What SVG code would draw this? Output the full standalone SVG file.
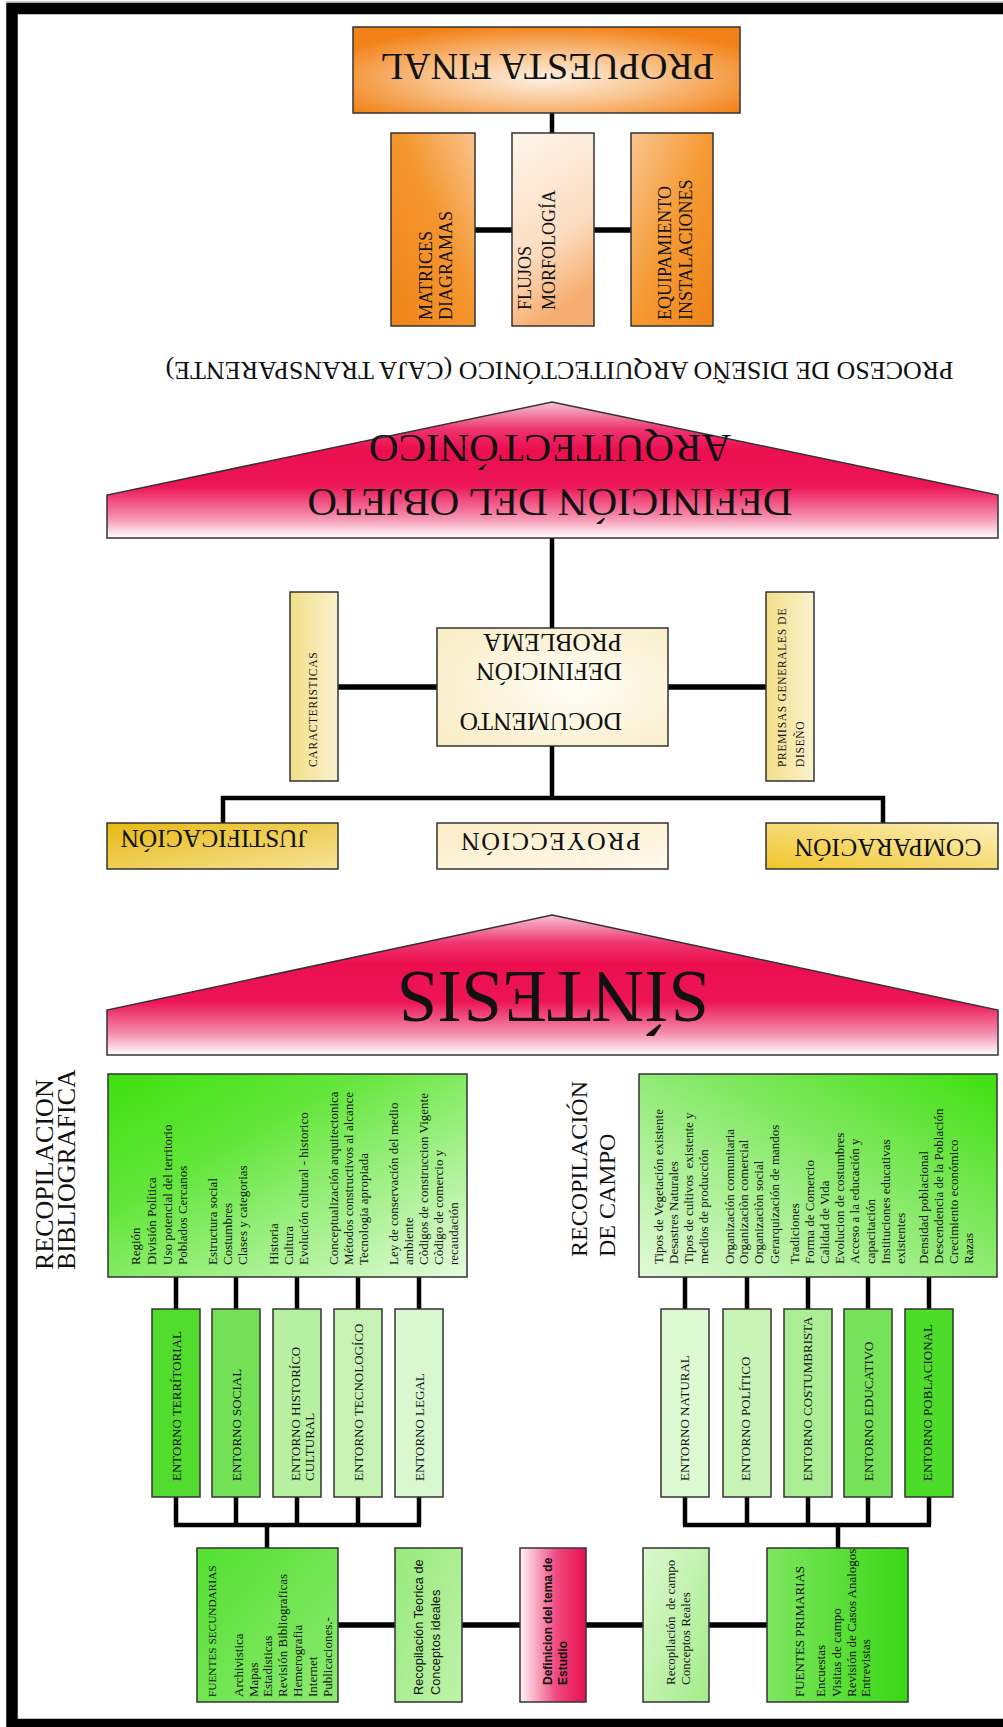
<svg xmlns="http://www.w3.org/2000/svg" width="1003" height="1727" viewBox="0 0 1003 1727">
<style>
.bx{stroke:#333;stroke-width:1.5}
.t{font-family:"Liberation Serif","Times New Roman",serif;fill:#111}
.s{font-family:"Liberation Sans",Arial,sans-serif;fill:#111}
.c{stroke:#000;fill:none;stroke-width:4.5}
.ct{stroke:#000;fill:none;stroke-width:5.5}
.l13{font-size:13px}
.e{font-size:13px}
</style>
<defs>
<radialGradient id="gProp" cx="0.5" cy="0.6" r="0.62"><stop offset="0" stop-color="#fdf0e2"/><stop offset="0.45" stop-color="#f9c590"/><stop offset="1" stop-color="#f28217"/></radialGradient>
<linearGradient id="gMat" x1="0" y1="1" x2="1" y2="0"><stop offset="0" stop-color="#f08418"/><stop offset="0.55" stop-color="#f4962e"/><stop offset="1" stop-color="#f9c48e"/></linearGradient>
<linearGradient id="gFlu" x1="0" y1="0" x2="0.3" y2="1"><stop offset="0" stop-color="#fef6ee"/><stop offset="0.65" stop-color="#fcdcc0"/><stop offset="1" stop-color="#f6ae70"/></linearGradient>
<linearGradient id="gEqu" x1="0" y1="0" x2="1" y2="1"><stop offset="0" stop-color="#f9c690"/><stop offset="0.5" stop-color="#f59a34"/><stop offset="1" stop-color="#f08418"/></linearGradient>
<linearGradient id="gRed" x1="0" y1="0" x2="0" y2="1"><stop offset="0" stop-color="#f6c4d4"/><stop offset="0.2" stop-color="#ee3470"/><stop offset="0.35" stop-color="#ec0f50"/><stop offset="0.62" stop-color="#ec1556"/><stop offset="0.85" stop-color="#f590b0"/><stop offset="1" stop-color="#ffffff"/></linearGradient>
<radialGradient id="gDoc" cx="0.6" cy="0.5" r="0.7"><stop offset="0" stop-color="#fffdf6"/><stop offset="1" stop-color="#f9edc6"/></radialGradient>
<linearGradient id="gCar" x1="0" y1="0" x2="1" y2="0"><stop offset="0" stop-color="#f2de88"/><stop offset="1" stop-color="#fbf2ce"/></linearGradient>
<linearGradient id="gJus" x1="0" y1="0" x2="1" y2="1"><stop offset="0" stop-color="#e7b912"/><stop offset="1" stop-color="#f7e39a"/></linearGradient>
<linearGradient id="gPro" x1="0" y1="0" x2="1" y2="1"><stop offset="0" stop-color="#fbecc4"/><stop offset="1" stop-color="#fffaee"/></linearGradient>
<linearGradient id="gCom" x1="0" y1="1" x2="1" y2="0"><stop offset="0" stop-color="#f0c52a"/><stop offset="1" stop-color="#fcf0bc"/></linearGradient>
<linearGradient id="gBib" x1="0" y1="0" x2="1" y2="1"><stop offset="0" stop-color="#3ee00e"/><stop offset="0.35" stop-color="#64e63c"/><stop offset="1" stop-color="#e6fbde"/></linearGradient>
<linearGradient id="gCam" x1="0" y1="1" x2="1" y2="0"><stop offset="0" stop-color="#e2fad9"/><stop offset="0.6" stop-color="#80e860"/><stop offset="1" stop-color="#3ee00e"/></linearGradient>
<linearGradient id="gDef" x1="0" y1="0" x2="1" y2="0"><stop offset="0" stop-color="#fff4f7"/><stop offset="0.55" stop-color="#ef4a80"/><stop offset="1" stop-color="#e8104f"/></linearGradient>
<linearGradient id="gFS" x1="0" y1="0" x2="1" y2="1"><stop offset="0" stop-color="#52e030"/><stop offset="1" stop-color="#8eea72"/></linearGradient>
<linearGradient id="gFP" x1="0" y1="0" x2="1" y2="0"><stop offset="0" stop-color="#7ee660"/><stop offset="1" stop-color="#3ad814"/></linearGradient>
<linearGradient id="gRT" x1="0" y1="0" x2="1" y2="1"><stop offset="0" stop-color="#98ea7c"/><stop offset="1" stop-color="#bff2aa"/></linearGradient>
<linearGradient id="gRC" x1="0" y1="0" x2="1" y2="1"><stop offset="0" stop-color="#dcf8d0"/><stop offset="1" stop-color="#a4ec8a"/></linearGradient>
</defs>

<g id="frame">
<rect x="12" y="8.5" width="1100" height="1716" fill="none" stroke="#000" stroke-width="11.5"/>
<line x1="6" y1="2" x2="1003" y2="2" stroke="#999" stroke-width="1"/>
</g>

<g id="connectors">
<line class="c" x1="552" y1="113" x2="552" y2="134"/>
<line class="ct" x1="475" y1="230" x2="512" y2="230"/>
<line class="ct" x1="594" y1="230" x2="631" y2="230"/>
<line class="c" x1="552" y1="538" x2="552" y2="628"/>
<line class="ct" x1="338" y1="687" x2="437" y2="687"/>
<line class="ct" x1="668" y1="687" x2="766" y2="687"/>
<line class="c" x1="552" y1="746" x2="552" y2="798"/>
<polyline class="c" points="223,823 223,798 883,798 883,823"/>
<path class="c" d="M176,1277V1309M236,1277V1309M297,1277V1309M358,1277V1309M419,1277V1309"/>
<path class="c" d="M176,1497V1525M236,1497V1525M297,1497V1525M358,1497V1525M419,1497V1525M174,1525H421M267,1525V1548"/>
<path class="c" d="M685,1277V1309M747,1277V1309M808,1277V1309M868,1277V1309M929,1277V1309"/>
<path class="c" d="M685,1497V1525M747,1497V1525M808,1497V1525M868,1497V1525M929,1497V1525M683,1525H931M838,1525V1548"/>
<path class="ct" d="M338,1625H395M462,1625H520M586,1625H643M709,1625H767"/>
</g>

<g id="n-propuesta">
<rect class="bx" x="353" y="27" width="387" height="86" fill="url(#gProp)"/>
<text class="t" font-size="38" text-anchor="middle" transform="rotate(180)" x="-547" y="-53.5">PROPUESTA FINAL</text>
</g>
<g id="n-matrices">
<rect class="bx" x="391" y="133" width="84" height="193" fill="url(#gMat)"/>
<text class="t" font-size="18" transform="rotate(-90)"><tspan x="-320" y="431.5">MATRICES</tspan><tspan x="-320" y="452">DIAGRAMAS</tspan></text>
</g>
<g id="n-flujos">
<rect class="bx" x="512" y="133" width="82" height="193" fill="url(#gFlu)"/>
<text class="t" font-size="18" fill="#222" transform="rotate(-90)"><tspan x="-310" y="530.5">FLUJOS</tspan><tspan x="-310" y="555">MORFOLOGÍA</tspan></text>
</g>
<g id="n-equipamiento">
<rect class="bx" x="631" y="133" width="82" height="193" fill="url(#gEqu)"/>
<text class="t" font-size="18" transform="rotate(-90)"><tspan x="-320" y="671">EQUIPAMIENTO</tspan><tspan x="-320" y="692">INSTALACIONES</tspan></text>
</g>

<g id="t-proceso">
<text class="t" font-size="26" text-anchor="middle" transform="rotate(180)" x="-559.5" y="-362">PROCESO DE DISEÑO ARQUITECTÓNICO (CAJA TRANSPARENTE)</text>
</g>

<g id="n-definicion-objeto">
<polygon class="bx" points="552,402 998,495 998,538 107,538 107,495" fill="url(#gRed)" stroke-width="1"/>
<text class="t" font-size="41" text-anchor="middle" transform="rotate(180)"><tspan x="-550" y="-488.5">DEFINICIÓN DEL OBJETO</tspan><tspan x="-550" y="-435">ARQUITECTÓNICO</tspan></text>
</g>

<g id="n-caracteristicas">
<rect class="bx" x="290" y="592" width="48" height="189" fill="url(#gCar)"/>
<text class="t" font-size="11.5" letter-spacing="0.7" transform="rotate(-90)" x="-767" y="317">CARACTERISTICAS</text>
</g>
<g id="n-documento">
<rect class="bx" x="437" y="628" width="231" height="118" fill="url(#gDoc)"/>
<text class="t" font-size="25.5" transform="rotate(180)"><tspan x="-622" y="-713">DOCUMENTO</tspan><tspan x="-622" y="-663">DEFINICIÓN</tspan><tspan x="-622" y="-634">PROBLEMA</tspan></text>
</g>
<g id="n-premisas">
<rect class="bx" x="766" y="592" width="48" height="189" fill="url(#gCar)"/>
<text class="t" font-size="11.5" letter-spacing="0.7" transform="rotate(-90)"><tspan x="-767" y="786">PREMISAS GENERALES DE</tspan><tspan x="-767" y="804">DISEÑO</tspan></text>
</g>

<g id="n-justificacion">
<rect class="bx" x="107" y="823" width="231" height="46" fill="url(#gJus)"/>
<text class="t" font-size="25.5" text-anchor="middle" transform="rotate(180)" x="-214" y="-830">JUSTIFICACIÓN</text>
</g>
<g id="n-proyeccion">
<rect class="bx" x="437" y="823" width="231" height="46" fill="url(#gPro)"/>
<text class="t" font-size="26" letter-spacing="1.5" text-anchor="middle" transform="rotate(180)" x="-550" y="-833">PROYECCIÓN</text>
</g>
<g id="n-comparacion">
<rect class="bx" x="766" y="823" width="232" height="46" fill="url(#gCom)"/>
<text class="t" font-size="25.6" text-anchor="middle" transform="rotate(180)" x="-888" y="-838.5">COMPARACIÓN</text>
</g>

<g id="n-sintesis">
<polygon class="bx" points="552,915 998,1010 998,1055 107,1055 107,1010" fill="url(#gRed)" stroke-width="1"/>
<text class="t" font-size="73" text-anchor="middle" transform="rotate(180)" x="-553" y="-972">SÍNTESIS</text>
</g>

<g id="n-recop-bibliografica">
<text class="t" font-size="26" transform="rotate(-90)"><tspan x="-1270" y="53">RECOPILACION</tspan><tspan x="-1270" y="75">BIBLIOGRAFICA</tspan></text>
<rect class="bx" x="108" y="1074" width="359" height="203" fill="url(#gBib)"/>
<text class="t l13" transform="rotate(-90)">
<tspan x="-1265" y="139.5">Región</tspan>
<tspan x="-1265" y="155.5">División Política</tspan>
<tspan x="-1265" y="171.5">Uso potencial del territorio</tspan>
<tspan x="-1265" y="186.5">Poblados Cercanos</tspan>
<tspan x="-1265" y="216.5">Estructura social</tspan>
<tspan x="-1265" y="231.5">Costumbres</tspan>
<tspan x="-1265" y="246.5">Clases y categorias</tspan>
<tspan x="-1265" y="277.5">Historia</tspan>
<tspan x="-1265" y="292.5">Cultura</tspan>
<tspan x="-1265" y="307.5">Evolución cultural - historico</tspan>
<tspan x="-1265" y="337.5">Conceptualización arquitectonica</tspan>
<tspan x="-1265" y="352.5">Métodos constructivos al alcance</tspan>
<tspan x="-1265" y="367.5">Tecnologia apropiada</tspan>
<tspan x="-1265" y="397.5">Ley de conservación del medio</tspan>
<tspan x="-1265" y="412.5">ambiente</tspan>
<tspan x="-1265" y="427.5">Còdigos de construccion Vigente</tspan>
<tspan x="-1265" y="442.5">Còdigo de comercio y</tspan>
<tspan x="-1265" y="457.5">recaudación</tspan>
</text>
</g>

<g id="n-recop-campo">
<text class="t" font-size="24" transform="rotate(-90)"><tspan x="-1257" y="587">RECOPILACIÓN</tspan><tspan x="-1257" y="615">DE CAMPO</tspan></text>
<rect class="bx" x="639" y="1074" width="358" height="203" fill="url(#gCam)"/>
<text class="t l13" transform="rotate(-90)">
<tspan x="-1264" y="662.8">Tipos de Vegetación existente</tspan>
<tspan x="-1264" y="677.8">Desastres Naturales</tspan>
<tspan x="-1264" y="692.8" xml:space="preserve">Tipos de cultivos  existente y</tspan>
<tspan x="-1264" y="707.8">medios de producción</tspan>
<tspan x="-1264" y="733.5">Organización comunitaria</tspan>
<tspan x="-1264" y="748">Organizaciòn comercial</tspan>
<tspan x="-1264" y="762.5">Organizaciòn social</tspan>
<tspan x="-1264" y="779">Gerarquización de mandos</tspan>
<tspan x="-1264" y="799">Tradiciones</tspan>
<tspan x="-1264" y="814">Forma de Comercio</tspan>
<tspan x="-1264" y="829">Calidad de Vida</tspan>
<tspan x="-1264" y="844">Evolucion de costumbres</tspan>
<tspan x="-1264" y="859">Acceso a la educación y</tspan>
<tspan x="-1264" y="875">capacitación</tspan>
<tspan x="-1264" y="890">Instituciones educativas</tspan>
<tspan x="-1264" y="905">existentes</tspan>
<tspan x="-1264" y="927.5">Densidad poblacional</tspan>
<tspan x="-1264" y="942.5">Descendencia de la Población</tspan>
<tspan x="-1264" y="957.5">Crecimiento económico</tspan>
<tspan x="-1264" y="972.5">Razas</tspan>
</text>
</g>

<g id="n-entorno-territorial"><rect class="bx" x="152" y="1309" width="48" height="188" fill="#52dc2e"/><text class="t e" transform="rotate(-90)" x="-1481" y="180.5">ENTORNO TERRÍTORIAL</text></g>
<g id="n-entorno-social"><rect class="bx" x="212" y="1309" width="48" height="188" fill="#74e056"/><text class="t e" transform="rotate(-90)" x="-1481" y="240.5">ENTORNO SOCIAL</text></g>
<g id="n-entorno-historico"><rect class="bx" x="273" y="1309" width="48" height="188" fill="#b6f0a0"/><text class="t e" transform="rotate(-90)"><tspan x="-1481" y="300">ENTORNO HISTORÍCO</tspan><tspan x="-1481" y="314">CULTURAL</tspan></text></g>
<g id="n-entorno-tecnologico"><rect class="bx" x="334" y="1309" width="48" height="188" fill="#c6f3b4"/><text class="t e" transform="rotate(-90)" x="-1481" y="362.5">ENTORNO TECNOLOGÍCO</text></g>
<g id="n-entorno-legal"><rect class="bx" x="395" y="1309" width="48" height="188" fill="#daf8d0"/><text class="t e" transform="rotate(-90)" x="-1481" y="423.5">ENTORNO LEGAL</text></g>

<g id="n-entorno-natural"><rect class="bx" x="661" y="1309" width="48" height="188" fill="#dcf9d2"/><text class="t e" transform="rotate(-90)" x="-1481" y="688.5">ENTORNO NATURAL</text></g>
<g id="n-entorno-politico"><rect class="bx" x="723" y="1309" width="48" height="188" fill="#c8f4b8"/><text class="t e" transform="rotate(-90)" x="-1481" y="749.5">ENTORNO POLÍTICO</text></g>
<g id="n-entorno-costumbrista"><rect class="bx" x="784" y="1309" width="48" height="188" fill="#acee94"/><text class="t e" transform="rotate(-90)" x="-1481" y="811.5">ENTORNO COSTUMBRISTA</text></g>
<g id="n-entorno-educativo"><rect class="bx" x="844" y="1309" width="48" height="188" fill="#76e258"/><text class="t e" transform="rotate(-90)" x="-1481" y="872.5">ENTORNO EDUCATIVO</text></g>
<g id="n-entorno-poblacional"><rect class="bx" x="905" y="1309" width="48" height="188" fill="#4edc2a"/><text class="t e" transform="rotate(-90)" x="-1481" y="932">ENTORNO POBLACIONAL</text></g>

<g id="n-fuentes-secundarias">
<rect class="bx" x="197" y="1548" width="141" height="154" fill="url(#gFS)"/>
<text class="t" transform="rotate(-90)">
<tspan x="-1697" y="216" font-size="11.3">FUENTES SECUNDARIAS</tspan>
<tspan x="-1697" y="242.5" font-size="13">Archivistica</tspan>
<tspan x="-1697" y="257.5" font-size="13">Mapas</tspan>
<tspan x="-1697" y="271.5" font-size="13">Estadisticas</tspan>
<tspan x="-1697" y="286.5" font-size="13">Revisión Bibliograficas</tspan>
<tspan x="-1697" y="301.5" font-size="13">Hemerografia</tspan>
<tspan x="-1697" y="316.5" font-size="13">Internet</tspan>
<tspan x="-1697" y="331.5" font-size="13">Publicaciones.-</tspan>
</text>
</g>
<g id="n-recop-teorica">
<rect class="bx" x="395" y="1548" width="67" height="154" fill="url(#gRT)"/>
<text class="s" font-size="12.8" transform="rotate(-90)"><tspan x="-1695" y="422.5">Recopilación Teorica de</tspan><tspan x="-1695" y="439.5">Conceptos ideales</tspan></text>
</g>
<g id="n-definicion-tema">
<rect class="bx" x="520" y="1548" width="66" height="154" fill="url(#gDef)"/>
<text class="s" font-size="12" font-weight="bold" transform="rotate(-90)"><tspan x="-1685" y="551.5">Definicion del tema de</tspan><tspan x="-1685" y="566.5">Estudio</tspan></text>
</g>
<g id="n-recop-campo-reales">
<rect class="bx" x="643" y="1548" width="66" height="154" fill="url(#gRC)"/>
<text class="t" font-size="13" transform="rotate(-90)" xml:space="preserve"><tspan x="-1685" y="674.5">Recopilación  de campo</tspan><tspan x="-1685" y="689.5">Conceptos Reales</tspan></text>
</g>
<g id="n-fuentes-primarias">
<rect class="bx" x="767" y="1548" width="141" height="154" fill="url(#gFP)"/>
<text class="t" font-size="13" transform="rotate(-90)">
<tspan x="-1697" y="804.3">FUENTES PRIMARIAS</tspan>
<tspan x="-1697" y="824.5">Encuestas</tspan>
<tspan x="-1697" y="840.5">Visitas de campo</tspan>
<tspan x="-1697" y="855.5">Revisión de Casos Analogos</tspan>
<tspan x="-1697" y="869.5">Entrevistas</tspan>
</text>
</g>
</svg>
